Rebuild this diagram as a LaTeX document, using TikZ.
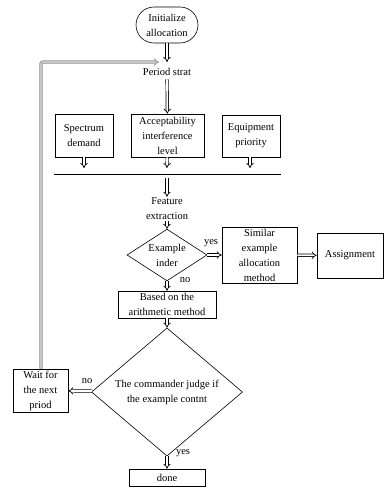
\documentclass[tikz,border=0pt]{standalone}
\usepackage{fontspec}
\setmainfont{Liberation Serif}
\usetikzlibrary{arrows.meta,shapes.geometric,shapes.misc}

\begin{document}
\begin{tikzpicture}[x=1pt, y=-1pt, line width=0.6pt,
  font=\fontsize{10.5}{15}\selectfont,
  box/.style={draw, rectangle, align=center, inner sep=0pt},
  diam/.style={draw, diamond, align=center, inner sep=-2pt},
  dbl/.style={double, line width=0.7pt, double distance=1.8pt, -{Implies}}]
\useasboundingbox (0,0) rectangle (385,487);

\node[draw, rounded rectangle, align=center, minimum width=62pt, minimum height=36pt, inner sep=0pt] (init) at (167,25) {Initialize\\allocation};
\coordinate (join) at (167,62);
\coordinate (fb) at (159,62);
\node (period) at (167,72) {Period strat};

\node[box, minimum width=58pt, minimum height=43pt] (spec) at (84,135.5) {Spectrum\\demand};
\node[box, minimum width=73pt, minimum height=43pt] (accept) at (167.5,135.5) {Acceptability\\interference\\level};
\node[box, minimum width=58pt, minimum height=42pt] (equip) at (251,136) {Equipment\\priority};

\coordinate (sa) at (84,168);
\coordinate (aa) at (167,168);
\coordinate (ea) at (250,168);
\coordinate (bl) at (54,174);
\coordinate (br) at (281,174);
\coordinate (bm) at (167,178);

\node[align=center, inner sep=1pt] (feat) at (167,209) {Feature\\extraction};
\node[diam, minimum width=80pt, minimum height=44pt] (ex) at (167,255) {Example\\inder};
\node[box, minimum width=75pt, minimum height=56pt] (sim) at (259.5,255) {Similar\\example\\allocation\\method};
\node[box, minimum width=66pt, minimum height=45pt] (assign) at (350,255.5) {Assignment};
\node[box, minimum width=98pt, minimum height=27pt] (arith) at (167,304.5) {Based on the\\arithmetic method};
\node[diam, inner sep=0pt, minimum width=151pt, minimum height=98pt] (judge) at (167,392) {The commander judge if\\the example contnt};
\node[box, minimum width=55pt, minimum height=43pt] (wait) at (40.5,390.5) {Wait for\\the next\\priod};
\node[box, minimum width=76pt, minimum height=17pt] (done) at (167,477.5) {done};

% connectors
\draw[dbl] (init) -- (join);
\draw[dbl, draw=gray!90, double=gray!45, rounded corners=2pt] (wait.north -| 41,0) |- (fb);
\draw[dbl] (period) -- (accept);
\draw[dbl] (spec) -- (sa);
\draw[dbl] (accept) -- (aa);
\draw[dbl] (equip.south -| ea) -- (ea);
\draw (bl) -- (br);
\draw[dbl] (bm) -- (feat);
\draw[dbl] (feat) -- (ex);
\draw[dbl] (ex) -- (sim);
\draw[dbl] (sim) -- (assign);
\draw[dbl] (ex) -- (arith);
\draw[dbl] (arith) -- (judge);
\draw[dbl] (judge) -- (wait);
\draw[dbl] (judge) -- (done);

% labels
\node (yes1) at (211,243) {yes};
\node (no1) at (185,280) {no};
\node (no2) at (87,381) {no};
\node (yes2) at (183,453) {yes};
\end{tikzpicture}
\end{document}
